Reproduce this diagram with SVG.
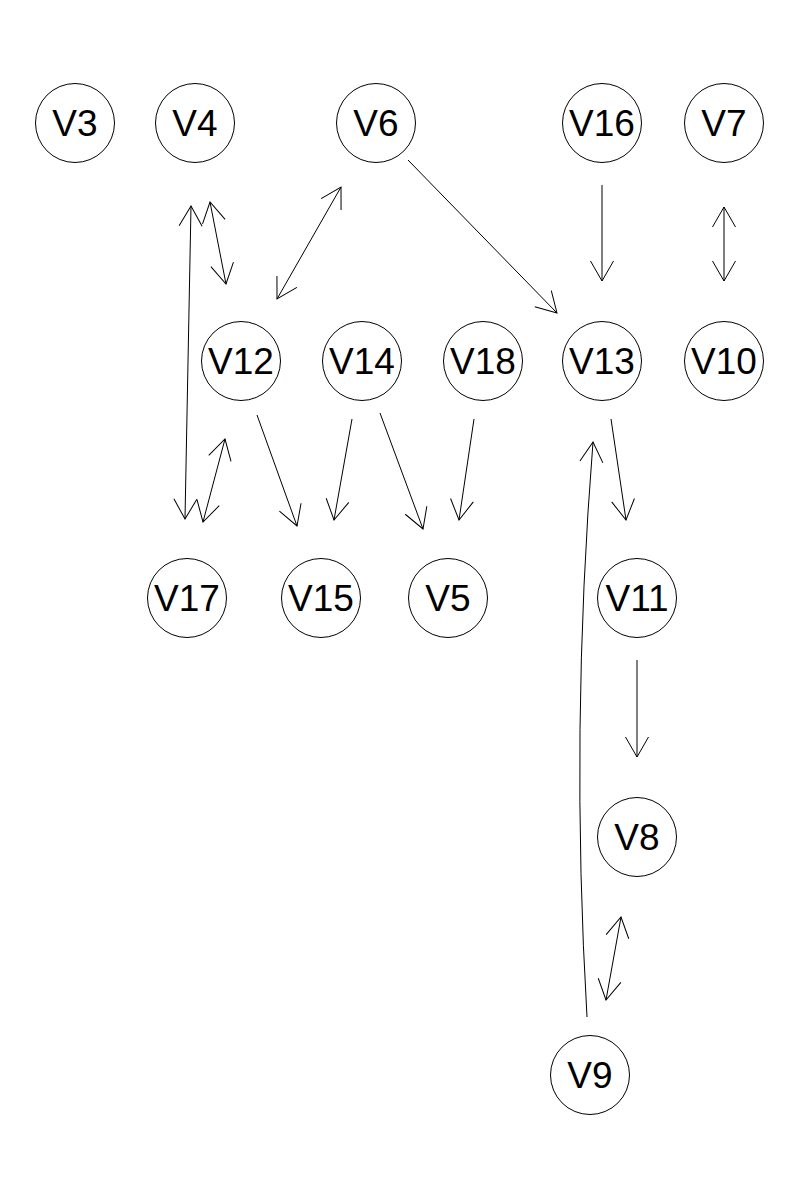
<svg xmlns="http://www.w3.org/2000/svg" width="800" height="1200" viewBox="0 0 800 1200">
<defs>
<style>
.n circle{fill:#fff;stroke:#000;stroke-width:1}
.n text{font-family:"Liberation Sans",Arial,sans-serif;font-size:37px;fill:#000;text-anchor:middle}
#edges path,#edges line{fill:none;stroke:#000;stroke-width:1}
.a{marker-end:url(#ah)}
.b{marker-start:url(#ah);marker-end:url(#ah)}
</style>
<marker id="ah" markerUnits="userSpaceOnUse" markerWidth="30" markerHeight="30" viewBox="-25 -15 30 30" refX="0" refY="0" orient="auto-start-reverse" overflow="visible">
<path d="M-20,-11.5 L0,0 L-20,11.5" fill="none" stroke="#000" stroke-width="1"/>
</marker>
</defs>
<rect width="800" height="1200" fill="#fff"/>
<g id="edges">
<line class="b" x1="191" y1="206" x2="185" y2="519"/>
<line class="b" x1="210" y1="202" x2="226" y2="284"/>
<line class="b" x1="341" y1="187" x2="277" y2="299"/>
<line class="a" x1="408" y1="160" x2="557" y2="313"/>
<line class="a" x1="602" y1="185" x2="602" y2="281"/>
<line class="b" x1="724" y1="207" x2="724" y2="281"/>
<line class="b" x1="225" y1="439" x2="203" y2="522"/>
<line class="a" x1="257" y1="415" x2="297" y2="526"/>
<line class="a" x1="352" y1="419" x2="334" y2="520"/>
<line class="a" x1="380" y1="413" x2="423" y2="529"/>
<line class="a" x1="474" y1="419" x2="459" y2="520"/>
<line class="a" x1="611" y1="419" x2="626" y2="520"/>
<path class="a" d="M587,1017 Q570,730 593,442"/>
<line class="a" x1="637" y1="660" x2="637" y2="757"/>
<line class="b" x1="621" y1="917" x2="606" y2="1000"/>
</g>
<g id="V3" class="n"><circle cx="75" cy="123" r="39.5"/><text x="75" y="136">V3</text></g>
<g id="V4" class="n"><circle cx="195" cy="123" r="39.5"/><text x="195" y="136">V4</text></g>
<g id="V6" class="n"><circle cx="376" cy="123" r="39.5"/><text x="376" y="136">V6</text></g>
<g id="V16" class="n"><circle cx="602" cy="123" r="39.5"/><text x="602" y="136">V16</text></g>
<g id="V7" class="n"><circle cx="724" cy="123" r="39.5"/><text x="724" y="136">V7</text></g>
<g id="V12" class="n"><circle cx="241" cy="361" r="39.5"/><text x="241" y="374">V12</text></g>
<g id="V14" class="n"><circle cx="362" cy="361" r="39.5"/><text x="362" y="374">V14</text></g>
<g id="V18" class="n"><circle cx="483" cy="361" r="39.5"/><text x="483" y="374">V18</text></g>
<g id="V13" class="n"><circle cx="602" cy="361" r="39.5"/><text x="602" y="374">V13</text></g>
<g id="V10" class="n"><circle cx="724" cy="361" r="39.5"/><text x="724" y="374">V10</text></g>
<g id="V17" class="n"><circle cx="187" cy="598" r="39.5"/><text x="187" y="611">V17</text></g>
<g id="V15" class="n"><circle cx="321" cy="598" r="39.5"/><text x="321" y="611">V15</text></g>
<g id="V5" class="n"><circle cx="448" cy="598" r="39.5"/><text x="448" y="611">V5</text></g>
<g id="V11" class="n"><circle cx="637" cy="598" r="39.5"/><text x="637" y="611">V11</text></g>
<g id="V8" class="n"><circle cx="637" cy="837" r="39.5"/><text x="637" y="850">V8</text></g>
<g id="V9" class="n"><circle cx="590" cy="1075" r="39.5"/><text x="590" y="1088">V9</text></g>
</svg>
